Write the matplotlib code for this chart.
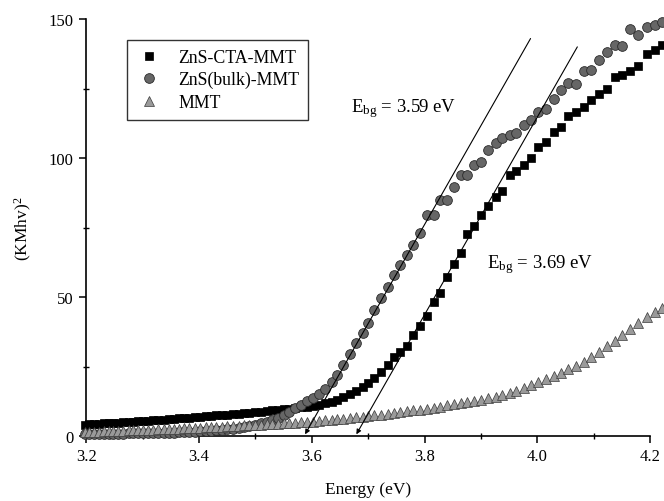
import matplotlib
matplotlib.use("Agg")
import matplotlib.pyplot as plt
from matplotlib.ticker import MultipleLocator, FormatStrFormatter

plt.rcParams['font.family'] = ['Liberation Serif', 'DejaVu Serif']
plt.rcParams['mathtext.fontset'] = 'custom'
plt.rcParams['mathtext.rm'] = 'Liberation Serif'
plt.rcParams['mathtext.it'] = 'Liberation Serif:italic'

# photon energy (eV), same scan for all three samples
energy = [3.197, 3.205, 3.213, 3.223, 3.231, 3.240, 3.248, 3.257, 3.265, 3.275,
          3.283, 3.292, 3.301, 3.310, 3.319, 3.327, 3.337, 3.346, 3.355, 3.364,
          3.374, 3.383, 3.393, 3.402, 3.412, 3.421, 3.430, 3.440, 3.450, 3.460,
          3.470, 3.479, 3.489, 3.499, 3.510, 3.520, 3.530, 3.540, 3.550, 3.560,
          3.571, 3.581, 3.592, 3.602, 3.613, 3.624, 3.635, 3.645, 3.656, 3.667,
          3.679, 3.690, 3.700, 3.711, 3.723, 3.735, 3.746, 3.757, 3.769, 3.780,
          3.792, 3.804, 3.816, 3.827, 3.839, 3.852, 3.864, 3.876, 3.888, 3.900,
          3.913, 3.926, 3.938, 3.951, 3.963, 3.977, 3.989, 4.002, 4.015, 4.029,
          4.042, 4.055, 4.068, 4.083, 4.096, 4.109, 4.123, 4.138, 4.151, 4.165,
          4.179, 4.194, 4.208, 4.222]

zns_cta = [4.1, 4.2, 4.3, 4.4, 4.5, 4.6, 4.7, 4.8, 4.9, 5.0,
           5.1, 5.25, 5.4, 5.5, 5.65, 5.8, 5.9, 6.05, 6.2, 6.35,
           6.5, 6.65, 6.8, 6.95, 7.1, 7.25, 7.4, 7.55, 7.7, 7.9,
           8.05, 8.2, 8.4, 8.6, 8.8, 9.0, 9.2, 9.4, 9.6, 9.8,
           10.0, 10.3, 10.6, 10.9, 11.3, 11.7, 12.2, 12.8, 14.0, 15.0,
           16.2, 17.5, 19.0, 20.8, 23.0, 25.5, 28.3, 30.3, 32.5, 36.2,
           39.6, 43.3, 48.2, 51.6, 57.2, 62.0, 65.7, 72.5, 75.5, 79.5,
           82.8, 86.0, 88.2, 94.0, 95.3, 97.5, 100.0, 103.8, 105.6, 109.2,
           111.0, 115.0, 116.5, 118.4, 120.8, 123.0, 125.0, 129.3, 130.0, 131.2,
           133.2, 137.5, 139.0, 140.5]

zns_bulk = [0.7, 0.7, 0.7, 0.75, 0.75, 0.8, 0.8, 0.85, 0.85, 0.9,
            0.9, 0.95, 1.0, 1.0, 1.05, 1.1, 1.15, 1.2, 1.25, 1.3,
            1.35, 1.45, 1.55, 1.65, 1.75, 1.9, 2.05, 2.2, 2.4, 2.65,
            2.9, 3.2, 3.6, 4.0, 4.5, 5.1, 5.8, 6.6, 7.6, 8.8,
            10.0, 11.3, 12.5, 13.8, 15.2, 17.0, 19.5, 22.0, 25.5, 29.5,
            33.3, 37.0, 40.5, 45.3, 49.5, 53.7, 57.9, 61.5, 65.1, 68.7,
            72.9, 79.5, 79.5, 84.9, 84.9, 89.7, 93.9, 93.9, 97.5, 98.7,
            102.9, 105.3, 107.1, 108.3, 108.9, 111.9, 113.7, 116.7, 117.5, 121.4,
            124.5, 127.1, 126.5, 131.4, 131.7, 135.3, 138.2, 140.6, 140.4, 146.6,
            144.2, 147.2, 147.8, 149.0]

mmt = [1.4, 1.45, 1.5, 1.6, 1.65, 1.7, 1.8, 1.85, 1.9, 2.0,
       2.05, 2.1, 2.2, 2.25, 2.3, 2.4, 2.45, 2.5, 2.6, 2.65,
       2.75, 2.8, 2.9, 3.0, 3.1, 3.2, 3.3, 3.4, 3.5, 3.6,
       3.7, 3.8, 3.9, 4.0, 4.1, 4.2, 4.3, 4.4, 4.6, 4.7,
       4.8, 4.9, 5.05, 5.2, 5.4, 5.6, 5.8, 6.0, 6.2, 6.45,
       6.7, 6.95, 7.2, 7.45, 7.7, 8.0, 8.3, 8.6, 8.9, 9.2,
       9.5, 9.8, 10.2, 10.6, 11.0, 11.4, 11.8, 12.2, 12.6, 13.0,
       13.6, 14.2, 14.8, 15.5, 16.3, 17.2, 18.2, 19.3, 20.5, 21.6,
       22.8, 24.0, 25.2, 26.8, 28.5, 30.3, 32.3, 34.3, 36.3, 38.5,
       40.8, 42.8, 44.5, 46.0]

# tangent lines: foot on the energy axis and upper end
fit_labels = [r'E$_{\rm bg}$ = 3.59 eV', r'E$_{\rm bg}$ = 3.69 eV']
fit_foot_x = [3.588, 3.679]
fit_foot_y = [0.6, 0.6]
fit_top_x = [3.988, 4.071]
fit_top_y = [143.0, 140.0]
label_x = [3.670, 3.911]
label_y = [118.0, 62.0]

fig = plt.figure(figsize=(6.64, 5.02), dpi=100)
ax = fig.add_axes([0.130, 0.1295, 0.849, 0.8305])

ax.plot(energy, zns_cta, ls='none', marker='s', ms=5.5, mfc='black',
        mec='black', mew=0.5, label='ZnS-CTA-MMT', zorder=3, clip_on=False)
ax.plot(energy, zns_bulk, ls='none', marker='o', ms=7, mfc='#666666',
        mec='#2a2a2a', mew=0.6, label='ZnS(bulk)-MMT', zorder=4, clip_on=False)
ax.plot(energy, mmt, ls='none', marker='^', ms=7.5, mfc='#9a9a9a',
        mec='#3a3a3a', mew=0.5, label='MMT', zorder=5, clip_on=False)

for i in range(len(fit_labels)):
    ax.annotate('', xy=(fit_foot_x[i], fit_foot_y[i]),
                xytext=(fit_top_x[i], fit_top_y[i]),
                arrowprops=dict(arrowstyle='-|>', lw=0.8, color='black',
                                mutation_scale=7, shrinkA=0, shrinkB=0),
                zorder=6)
    ax.text(label_x[i], label_y[i], fit_labels[i], fontsize=13.5,
            ha='left', va='center')

ax.set_xlim(3.2, 4.2)
ax.set_ylim(0, 150)
ax.xaxis.set_major_locator(MultipleLocator(0.2))
ax.xaxis.set_minor_locator(MultipleLocator(0.1))
ax.xaxis.set_major_formatter(FormatStrFormatter('%.1f'))
ax.yaxis.set_major_locator(MultipleLocator(50))
ax.yaxis.set_minor_locator(MultipleLocator(25))

for side in ['top', 'right']:
    ax.spines[side].set_visible(False)
for side in ['left', 'bottom']:
    ax.spines[side].set_linewidth(1.2)

ax.tick_params(which='major', direction='out', length=5, width=1.1,
               labelsize=12, pad=4)
ax.tick_params(which='minor', direction='inout', length=4, width=1.0)

ax.set_xlabel('Energy (eV)', fontsize=12.5, labelpad=12)
ax.set_ylabel(r'(KMhv)$^{2}$', fontsize=12.5, labelpad=11)

leg = ax.legend(loc='upper left', bbox_to_anchor=(0.072, 0.95), fontsize=12.8,
                frameon=True, fancybox=False, edgecolor='black',
                handletextpad=0.9, borderpad=0.5, labelspacing=0.3,
                handlelength=1.5, borderaxespad=0)
leg.get_frame().set_linewidth(1.0)

fig.savefig('out.png', dpi=100)
